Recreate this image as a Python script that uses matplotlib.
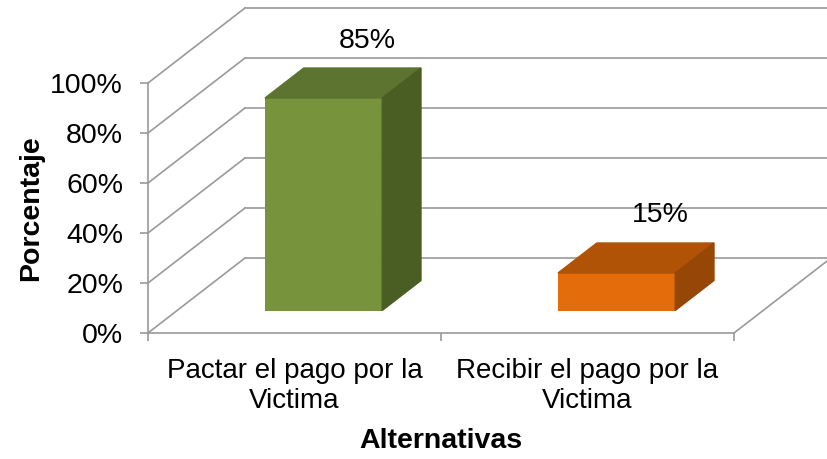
import numpy as np
import matplotlib.pyplot as plt
from matplotlib.patches import Polygon

plt.rcParams['font.family'] = ['Liberation Sans', 'DejaVu Sans']

# datos
categorias = ['Pactar el pago por la\nVictima', 'Recibir el pago por la\nVictima']
valores = [85, 15]
etiquetas = ['85%', '15%']
ticks_y = [0, 20, 40, 60, 80, 100]
ticks_y_txt = ['0%', '20%', '40%', '60%', '80%', '100%']

colores_frente = ['#77933C', '#E46C0A']
colores_techo = ['#5D7430', '#B05307']
colores_lado = ['#4A5E24', '#964706']
gris = '#9A9A9A'

# profundidad del "3D" en unidades de datos
DX = 0.331
DY = 30.0
f_frente = 0.3   # desplazamiento de la cara frontal de la barra
f_fondo = 0.4    # profundidad de la barra
ancho = 0.4

fig = plt.figure(figsize=(8.27, 4.59), dpi=100)
ax = fig.add_axes([148 / 827, (459 - 333) / 459, 586 / 827, 250 / 459])
ax.set_xlim(-0.5, 1.5)
ax.set_ylim(0, 100)

x = np.arange(len(valores))
x0, x1 = -0.5, len(valores) - 0.5

# paredes (lineas de cuadricula en perspectiva)
for v in ticks_y:
    ax.plot([x0, x0 + DX], [v, v + DY], color=gris, lw=1.2, clip_on=False, zorder=1)
    ax.plot([x0 + DX, x1 + DX + 0.2], [v + DY, v + DY], color=gris, lw=1.2,
            clip_on=False, zorder=1)
ax.plot([x1, x1 + DX], [0, DY], color=gris, lw=1.2, clip_on=False, zorder=1)

# barras
xf = x + f_frente * DX
yb = f_frente * DY
ax.bar(xf, valores, width=ancho, bottom=yb, color=colores_frente, zorder=3)
ddx, ddy = f_fondo * DX, f_fondo * DY
for i, v in enumerate(valores):
    l, r = xf[i] - ancho / 2, xf[i] + ancho / 2
    t = v + yb
    ax.add_patch(Polygon([(l, t), (r, t), (r + ddx, t + ddy), (l + ddx, t + ddy)],
                         closed=True, color=colores_techo[i], zorder=3, clip_on=False))
    ax.add_patch(Polygon([(r, yb), (r + ddx, yb + ddy), (r + ddx, t + ddy), (r, t)],
                         closed=True, color=colores_lado[i], zorder=3, clip_on=False))
    ax.text(xf[i] + 0.45 * DX, t + ddy + 11, etiquetas[i], ha='center', va='center',
            fontsize=20.5, zorder=4)

# ejes
for s in ['top', 'right']:
    ax.spines[s].set_visible(False)
for s in ['left', 'bottom']:
    ax.spines[s].set_color(gris)
    ax.spines[s].set_linewidth(1.2)

ax.set_yticks(ticks_y)
ax.set_yticklabels(ticks_y_txt)
ax.tick_params(axis='y', length=6, width=1.2, color=gris, labelsize=20.5, pad=12)

ax.set_xticks([x0, 0.5, x1])
ax.set_xticklabels([])
ax.set_xticks(x, minor=True)
ax.set_xticklabels(categorias, minor=True, fontsize=20, linespacing=1.2)
ax.tick_params(axis='x', which='minor', length=0, pad=18)
ax.tick_params(axis='x', which='major', length=6, width=1.2, color=gris)

ax.set_ylabel('Porcentaje', fontsize=20.5, fontweight='bold', va='center')
ax.yaxis.set_label_coords(-0.2, 0.5)
ax.set_xlabel('Alternativas', fontsize=20.5, fontweight='bold', va='center')
ax.xaxis.set_label_coords(0.5, -0.43)

fig.savefig('out.png', dpi=100)
